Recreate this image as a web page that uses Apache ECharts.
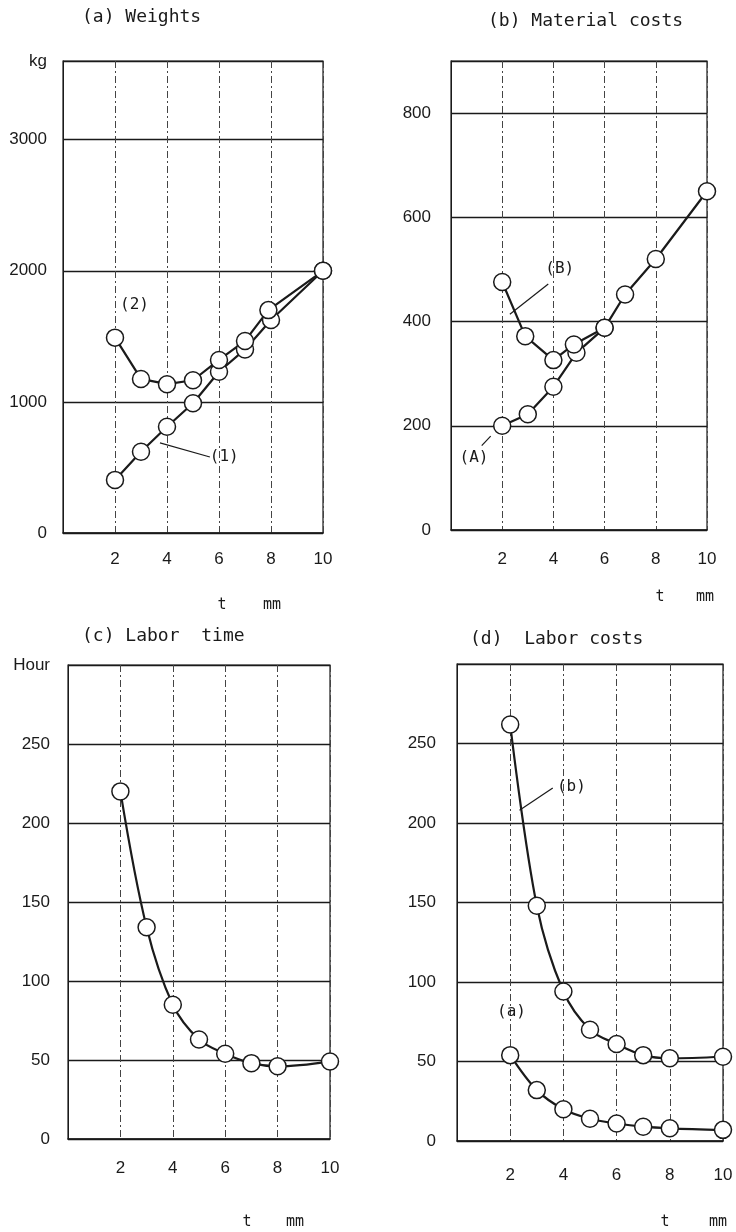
<!DOCTYPE html>
<html>
<head>
<meta charset="utf-8">
<script src="https://cdn.jsdelivr.net/npm/echarts@6/dist/echarts.min.js"></script>
<style>
  html, body { margin: 0; padding: 0; background: #fff; }
  #chart { width: 736px; height: 1232px; }
</style>
</head>
<body>
<div id="chart"></div>
<script>
// (a) weights, kg
const tWeight1 = [2, 3, 4, 5, 6, 7, 8, 10]
const weight1 = [405, 620, 810, 990, 1230, 1400, 1625, 2000]
const tWeight2 = [2, 3, 4, 5, 6, 7, 7.9, 10]
const weight2 = [1490, 1175, 1135, 1165, 1320, 1465, 1700, 2000]

// (b) material costs
const tMatA = [2, 3, 4, 4.9, 6, 6.8, 8, 10]
const matA = [200, 222, 275, 340, 388, 452, 520, 650]
const tMatB = [2, 2.9, 4, 4.8, 6]
const matB = [476, 372, 326, 356, 388]

// (c) labor time, hour
const tHours = [2, 3, 4, 5, 6, 7, 8, 10]
const hours = [220, 134, 85, 63, 54, 48, 46, 49]

// (d) labor costs
const tLabor = [2, 3, 4, 5, 6, 7, 8, 10]
const laborB = [262, 148, 94, 70, 61, 54, 52, 53]
const laborA = [54, 32, 20, 14, 11, 9, 8, 7]

const xTicks = [2, 4, 6, 8, 10]

const ink = '#1a1a1a'
const mono = '"DejaVu Sans Mono", "Liberation Mono", monospace'
const sans = '"Liberation Sans", Arial, sans-serif'

const pairs = (xs, ys) => xs.map((x, i) => [x, ys[i]])

const chart = echarts.init(document.getElementById('chart'))

const grids = [
  { left: 63, top: 61, width: 260, height: 472 },
  { left: 451, top: 61, width: 256, height: 469 },
  { left: 68, top: 665, width: 262, height: 474 },
  { left: 457, top: 664, width: 266, height: 477 }
].map(g => Object.assign(g, { show: true, borderColor: ink, borderWidth: 1.2 }))

const xAxisFor = (gridIndex, margin) => ({
  type: 'value',
  gridIndex,
  min: 0,
  max: 10,
  interval: 2,
  axisLine: { show: true, onZero: false, lineStyle: { color: ink, width: 1.6 } },
  axisTick: { show: false },
  axisLabel: {
    margin,
    color: ink,
    fontSize: 17,
    fontFamily: sans,
    formatter: v => (xTicks.indexOf(v) >= 0 ? String(v) : '')
  },
  splitLine: { show: true, lineStyle: { color: '#444', width: 1, type: [7, 3, 2, 3] } }
})

const yAxisFor = (gridIndex, max, interval, unit, margin) => ({
  type: 'value',
  gridIndex,
  min: 0,
  max,
  interval,
  axisLine: { show: true, lineStyle: { color: ink, width: 1 } },
  axisTick: { show: false },
  axisLabel: {
    margin,
    color: ink,
    fontSize: 17,
    fontFamily: sans,
    formatter: v => (v === max ? unit : String(v))
  },
  splitLine: { show: true, lineStyle: { color: ink, width: 1.3 } }
})

const lineSeries = (idx, data, smooth) => ({
  type: 'line',
  xAxisIndex: idx,
  yAxisIndex: idx,
  data,
  smooth: smooth || false,
  symbol: 'circle',
  symbolSize: 17,
  showAllSymbol: true,
  z: 3,
  lineStyle: { color: ink, width: 2.2 },
  itemStyle: { color: '#fff', borderColor: ink, borderWidth: 1.5 }
})

const noteLabel = (coord, text) => ({
  coord,
  symbol: 'circle',
  symbolSize: 1,
  itemStyle: { color: 'rgba(0,0,0,0)' },
  label: { show: true, position: 'inside', formatter: text, color: ink, fontSize: 16, fontFamily: mono }
})

const leaders = segs => ({
  silent: true,
  symbol: ['none', 'none'],
  label: { show: false },
  lineStyle: { color: ink, width: 1.2, type: 'solid' },
  data: segs.map(s => [{ coord: s[0] }, { coord: s[1] }])
})

const unitText = (x, y, text) => ({
  type: 'text',
  x,
  y,
  style: { text, fill: ink, font: '15px ' + mono, textAlign: 'center', textVerticalAlign: 'middle' }
})

const s1 = lineSeries(0, pairs(tWeight1, weight1))
s1.markPoint = { data: [noteLabel([6.2, 580], '(1)')] }
s1.markLine = leaders([[[3.73, 687], [5.65, 580]]])

const s2 = lineSeries(0, pairs(tWeight2, weight2))
s2.markPoint = { data: [noteLabel([2.75, 1740], '(2)')] }

const sA = lineSeries(1, pairs(tMatA, matA))
sA.markPoint = { data: [noteLabel([0.9, 139], '(A)')] }
sA.markLine = leaders([[[1.2, 162], [1.55, 180]]])

const sB = lineSeries(1, pairs(tMatB, matB))
sB.markPoint = { data: [noteLabel([4.25, 502], '(B)')] }
sB.markLine = leaders([[[3.8, 472], [2.3, 414]]])

const sC = lineSeries(2, pairs(tHours, hours), 0.35)

const sDb = lineSeries(3, pairs(tLabor, laborB), 0.35)
sDb.markPoint = { data: [noteLabel([4.3, 223], '(b)')] }
sDb.markLine = leaders([[[3.6, 222], [2.35, 208]]])

const sDa = lineSeries(3, pairs(tLabor, laborA), 0.35)
sDa.markPoint = { data: [noteLabel([2.05, 81], '(a)')] }

const titleStyle = { color: ink, fontSize: 18, fontWeight: 'normal', fontFamily: mono }

chart.setOption({
  backgroundColor: '#fff',
  animation: false,
  title: [
    { text: '(a) Weights', left: 82, top: 8, padding: 0, textStyle: titleStyle },
    { text: '(b) Material costs', left: 488, top: 12, padding: 0, textStyle: titleStyle },
    { text: '(c) Labor  time', left: 82, top: 627, padding: 0, textStyle: titleStyle },
    { text: '(d)  Labor costs', left: 470, top: 630, padding: 0, textStyle: titleStyle }
  ],
  grid: grids,
  xAxis: [xAxisFor(0, 18), xAxisFor(1, 21), xAxisFor(2, 21), xAxisFor(3, 26)],
  yAxis: [
    yAxisFor(0, 3600, 1000, 'kg', 16),
    yAxisFor(1, 900, 200, '', 20),
    yAxisFor(2, 300, 50, 'Hour', 18),
    yAxisFor(3, 300, 50, '', 21)
  ],
  series: [s1, s2, sA, sB, sC, sDb, sDa],
  graphic: [
    unitText(222, 605, 't'), unitText(272, 605, 'mm'),
    unitText(660, 597, 't'), unitText(705, 597, 'mm'),
    unitText(247, 1222, 't'), unitText(295, 1222, 'mm'),
    unitText(665, 1222, 't'), unitText(718, 1222, 'mm')
  ]
})
</script>
</body>
</html>
